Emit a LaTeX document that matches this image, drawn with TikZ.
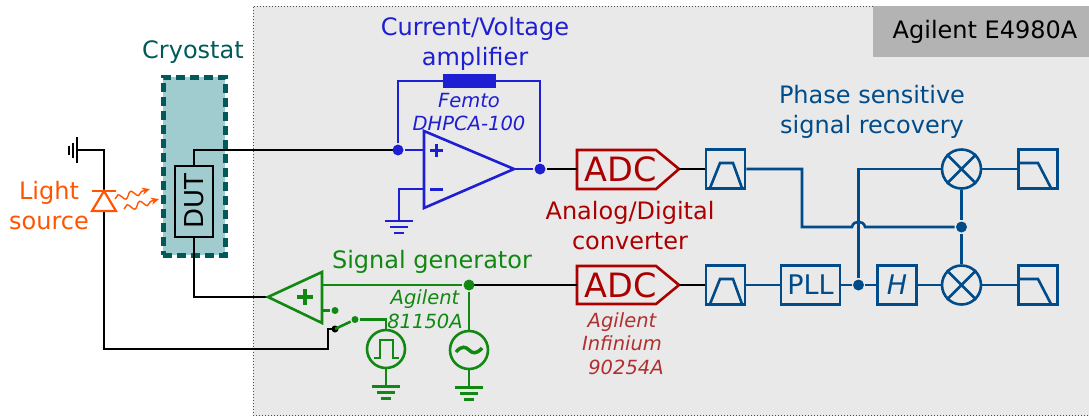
\documentclass[tikz,border=0pt]{standalone}
\usepackage{fontspec}
\setmainfont{DejaVu Sans}
\usetikzlibrary{decorations.pathmorphing,arrows.meta}
\definecolor{cTeal}{HTML}{005A5A}
\definecolor{cTealF}{HTML}{A0CCCF}
\definecolor{cBlue}{HTML}{1E1ED2}
\definecolor{cNavy}{HTML}{004C8A}
\definecolor{cRed}{HTML}{AA0000}
\definecolor{cBrown}{HTML}{B03030}
\definecolor{cGreen}{HTML}{118811}
\definecolor{cOrange}{HTML}{FF5500}
\definecolor{cGrey}{HTML}{E9E9E9}
\definecolor{cHead}{HTML}{B3B3B3}
\tikzset{
  lbl/.style={inner sep=0pt,align=center,font=\fontsize{24}{30}\selectfont},
  sml/.style={inner sep=0pt,align=center,font=\fontsize{19.5}{23.5}\selectfont\itshape},
  sbox/.style={draw=cNavy,fill=none,inner sep=0pt,minimum width=39pt,minimum height=39pt},
  mixer/.style={draw=cNavy,circle,inner sep=0pt,minimum size=39pt},
  srcnode/.style={draw=cGreen,circle,inner sep=0pt,minimum size=38pt},
  dotnode/.style={circle,inner sep=0pt,minimum size=#1,fill},
  dotnode/.default=10pt,
  big/.style={inner sep=0pt,font=\fontsize{33.5}{36}\selectfont,text=cRed},
  wave/.style={cOrange,line width=1.4pt,-{Stealth[length=8pt,width=7pt]},decorate,decoration={snake,amplitude=3.2pt,segment length=13pt,post length=7pt}},
}
\newcommand{\gndH}[3]{\draw[#3,line width=2.2pt] (#1-14,#2) -- (#1+14,#2);
  \draw[#3,line width=2.2pt] (#1-9,#2+6) -- (#1+9,#2+6);
  \draw[#3,line width=2.2pt] (#1-5,#2+12) -- (#1+5,#2+12);}
\begin{document}
\begin{tikzpicture}[x=1pt,y=-1pt,line width=2.6pt]
\useasboundingbox (0,0) rectangle (1089,416);
% background
\fill[cGrey] (253,6) rectangle (1089,416);
\draw[black!70,line width=1pt,dotted] (253,416) -- (253,6) -- (1089,6);
\draw[black!70,line width=1pt,dotted] (253,415.5) -- (1089,415.5);
\node[fill=cHead,inner sep=0pt,minimum width=216pt,minimum height=51pt] (headbox) at (981,31.5) {};
\node[inner sep=0pt,font=\fontsize{24}{26}\selectfont] (head) at (985,32) {Agilent E4980A};
% cryostat
\node[draw=cTeal,fill=cTealF,line width=5pt,dash pattern=on 9pt off 5pt,inner sep=0pt,minimum width=62pt,minimum height=178pt] (cryo) at (194,166) {};
\node[lbl,text=cTeal] (cryol) at (193,52) {Cryostat};
\node[draw=black,inner sep=0pt,minimum width=38pt,minimum height=71pt] (dut) at (194,201.5) {};
\node[inner sep=0pt,rotate=90,font=\fontsize{26}{30}\selectfont] (dutl) at (194,201.5) {DUT};
% coordinates of black wiring
\coordinate (g1) at (77,150);
\coordinate (led) at (104,191);
\coordinate (ledb) at (104,211);
\coordinate (plus) at (398,150);
\coordinate (out) at (540,169);
\coordinate (sw) at (335,329);
\coordinate (ampin) at (268,297);
\coordinate (genout) at (469,285);
% black wires
\draw (dut.north) |- (plus);
\draw (dut.south) |- (ampin);
\draw (g1) -| (led);
\draw (ledb) -- (104,349) -- (328,349) |- (sw);
\draw[line width=2pt] (77,137) -- (77,163);
\draw[line width=2pt] (72.5,143) -- (72.5,158);
\draw[line width=2pt] (69,146) -- (69,155);
\node[dotnode=7pt,fill=black] (swd) at (sw) {};
% light source
\draw[cOrange,line join=miter,line width=2.2pt] (92,191) -- (116,191);
\draw[cOrange,line join=miter,line width=2.2pt] (104,191) -- (116,211) -- (92,211) -- cycle;
\node[lbl,text=cOrange] (light) at (49,206) {Light\\source};
\coordinate (wa) at (115,199); \coordinate (wb) at (150,189);
\coordinate (wc) at (124,209); \coordinate (wd) at (159,199);
\draw[wave] (wa) -- (wb);
\draw[wave] (wc) -- (wd);
% current/voltage amplifier
\draw[cBlue,line join=miter] (424,131) -- (514,169) -- (424,208) -- cycle;
\node[dotnode=11pt,fill=cBlue] (pd) at (plus) {};
\node[dotnode=11pt,fill=cBlue] (od) at (out) {};
\draw[cBlue] (pd) -- (424,150);
\draw[cBlue] (514,169) -- (od);
\node[fill=cBlue,draw=cBlue,line width=1pt,inner sep=0pt,minimum width=52pt,minimum height=13pt] (rf) at (469.5,81) {};
\draw[cBlue] (pd) |- (rf.west);
\draw[cBlue] (rf.east) -| (od);
\draw[cBlue] (424,189) -| (399,221);
\gndH{399}{221}{cBlue}
\draw[cBlue,line width=3pt] (430,150) -- (443,150) (436.5,144) -- (436.5,157);
\draw[cBlue,line width=3pt] (430,189) -- (443,189);
\node[lbl,text=cBlue] (cvl) at (475,43.5) {Current/Voltage\\amplifier};
\node[sml,text=cBlue] (feml) at (469,112) {Femto\\DHPCA-100};
% ADCs
\node[big] (adc1t) at (620.5,169.5) {ADC};
\node[big] (adc2t) at (620.5,285.5) {ADC};
\coordinate (a1w) at (577,169); \coordinate (a1e) at (679,169);
\coordinate (a2w) at (577,285); \coordinate (a2e) at (679,285);
\draw[cRed,line join=miter] (577,150) -- (656,150) -- (a1e) -- (656,189) -- (577,189) -- cycle;
\draw[cRed,line join=miter] (577,266) -- (656,266) -- (a2e) -- (656,304) -- (577,304) -- cycle;
\draw (od) -- (a1w);
\draw (genout) -- (a2w);
\node[lbl,text=cRed] (adcl) at (630,226) {Analog/Digital\\converter};
\node[sml,text=cBrown] (infl) at (622,343.5) {Agilent\\Infinium\\\hspace*{8pt}90254A};
% signal recovery
\node[sbox] (bp1) at (725.5,169) {};
\node[sbox] (bp2) at (725.5,285) {};
\node[sbox,minimum width=59pt,font=\fontsize{27}{30}\selectfont,text=cNavy] (pll) at (810.5,285) {PLL};
\node[sbox,font=\fontsize{27}{30}\selectfont\itshape,text=cNavy] (hb) at (897,285) {H};
\node[mixer] (m1) at (961.5,169) {};
\node[mixer] (m2) at (961.5,285) {};
\node[sbox] (lp1) at (1038,169) {};
\node[sbox] (lp2) at (1038,285) {};
\draw (a1e) -- (bp1.west);
\draw (a2e) -- (bp2.west);
\begin{scope}[cNavy,line join=miter]
\draw (710,188) -- (720,163) -- (733,163) -- (742,188);
\draw (710,304) -- (720,279) -- (733,279) -- (742,304);
\draw (1019,163) -- (1038,163) -- (1051,188);
\draw (1019,279) -- (1038,279) -- (1051,304);
\draw (m1.45) -- (m1.225) (m1.135) -- (m1.315);
\draw (m2.45) -- (m2.225) (m2.135) -- (m2.315);
\node[dotnode=11pt,fill=cNavy] (j1) at (858.5,285) {};
\node[dotnode=11pt,fill=cNavy] (j2) at (961.5,227) {};
\draw (bp1.east) -- (802,169) -- (802,227) -- (852,227) .. controls (853,220) and (864,220) .. (865,227) -- (j2);
\draw (bp2.east) -- (pll.west);
\draw (pll.east) -- (j1) -- (hb.west);
\draw (hb.east) -- (m2.west);
\draw (j1) |- (m1.west);
\draw (m1.south) -- (j2) -- (m2.north);
\draw (m1.east) -- (lp1.west);
\draw (m2.east) -- (lp2.west);
\end{scope}
\node[lbl,text=cNavy] (psl) at (872,112) {Phase sensitive\\signal recovery};
% signal generator
\coordinate (stub) at (335,310.5);
\coordinate (swm) at (355,319.5);
\begin{scope}[cGreen,line join=miter]
\draw (ampin) -- (322,272) -- (322,323) -- cycle;
\draw[line width=3.5pt] (297,297) -- (313,297) (305,289) -- (305,305);
\node[dotnode=11pt,fill=cGreen] (gd) at (genout) {};
\node[dotnode=7pt,fill=cGreen] (sd) at (stub) {};
\node[dotnode=7pt,fill=cGreen] (md) at (swm) {};
\draw (322,285) -- (gd);
\draw (322,310.5) -- (sd);
\draw (sw) -- (md);
\node[srcnode] (ps) at (386,349) {};
\node[srcnode] (ss) at (469,350) {};
\draw (md) -| (ps.north);
\draw (gd) -- (ss.north);
\draw (ps.south) -- (386,386);
\draw (ss.south) -- (469,387);
\gndH{386}{386.5}{cGreen}
\gndH{469}{387.5}{cGreen}
\draw (374,358) -- (380,358) -- (380,340) -- (393,340) -- (393,358) -- (399,358);
\draw[line width=3.5pt] (456,352) .. controls (462,345) and (466,347) .. (469,350) .. controls (472,353) and (476,355) .. (482,348);
\end{scope}
\node[lbl,text=cGreen] (sgl) at (432,262) {Signal generator};
\node[sml,text=cGreen] (agl) at (425,309) {Agilent\\81150A};
\end{tikzpicture}
\end{document}
